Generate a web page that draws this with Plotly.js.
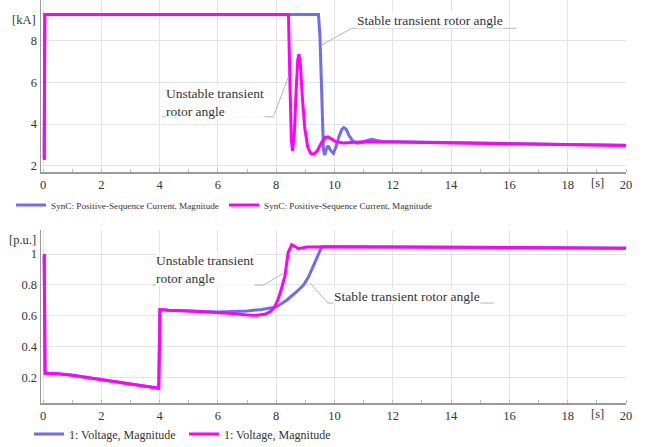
<!DOCTYPE html>
<html>
<head>
<meta charset="utf-8">
<script src="https://cdn.plot.ly/plotly-3.0.1.min.js"></script>
<style>
html,body{margin:0;padding:0;background:#fff}
#chart{width:656px;height:447px}
#chart text{font-family:'Liberation Serif','Times New Roman',serif !important}
</style>
</head>
<body>
<div id="chart"></div>
<script>
// ---- Top chart: positive-sequence current [kA] ----
const curStableT = [0, 0.04, 0.06, 9.45, 9.5, 9.56, 9.62, 9.66, 9.72, 9.78, 9.86, 9.96, 10.05, 10.15, 10.25, 10.32, 10.4, 10.5, 10.62, 10.77, 10.95, 11.1, 11.27, 11.45, 11.7, 12.2, 13, 14, 16, 18, 20];
const curStableV = [2.35, 2.35, 9.25, 9.25, 8.2, 5.0, 2.8, 2.51, 2.8, 2.96, 2.75, 2.6, 2.9, 3.4, 3.75, 3.83, 3.75, 3.45, 3.2, 3.08, 3.12, 3.2, 3.27, 3.22, 3.16, 3.15, 3.13, 3.1, 3.06, 3.02, 2.99];
const curUnstableT = [0, 0.04, 0.06, 8.42, 8.47, 8.52, 8.56, 8.62, 8.68, 8.74, 8.78, 8.83, 8.9, 8.98, 9.08, 9.18, 9.29, 9.4, 9.55, 9.68, 9.78, 9.9, 10.05, 10.3, 10.6, 11, 12, 14, 16, 18, 20];
const curUnstableV = [2.35, 2.35, 9.25, 9.25, 6.0, 3.2, 2.72, 3.5, 5.5, 7.1, 7.35, 6.8, 5.2, 3.8, 2.9, 2.6, 2.56, 2.7, 3.1, 3.35, 3.39, 3.3, 3.15, 3.1, 3.13, 3.15, 3.14, 3.1, 3.06, 3.02, 2.98];

// ---- Bottom chart: voltage magnitude [p.u.] ----
const voltStableT = [0, 0.04, 0.07, 0.5, 1, 1.5, 2, 2.5, 3, 3.5, 3.97, 4.01, 4.3, 5, 6, 7, 7.5, 8, 8.36, 8.7, 8.93, 9.1, 9.27, 9.42, 9.56, 9.7, 10, 12, 14, 16, 18, 20];
const voltStableV = [0.99, 0.99, 0.228, 0.225, 0.215, 0.201, 0.187, 0.173, 0.159, 0.145, 0.132, 0.641, 0.636, 0.631, 0.625, 0.632, 0.641, 0.658, 0.701, 0.756, 0.798, 0.85, 0.927, 0.99, 1.046, 1.047, 1.048, 1.046, 1.044, 1.042, 1.04, 1.038];
const voltUnstableT = [0, 0.04, 0.07, 0.5, 1, 1.5, 2, 2.5, 3, 3.5, 3.97, 4.01, 4.3, 5, 6, 6.5, 7, 7.33, 7.6, 7.79, 7.95, 8.07, 8.2, 8.3, 8.41, 8.53, 8.62, 8.76, 9.05, 9.5, 10, 12, 14, 16, 18, 20];
const voltUnstableV = [0.99, 0.99, 0.228, 0.225, 0.215, 0.201, 0.187, 0.173, 0.159, 0.145, 0.132, 0.641, 0.636, 0.631, 0.622, 0.615, 0.606, 0.604, 0.61, 0.626, 0.66, 0.71, 0.79, 0.86, 1.01, 1.06, 1.052, 1.035, 1.045, 1.047, 1.048, 1.046, 1.044, 1.042, 1.04, 1.038];

const curName = "SynC: Positive-Sequence Current, Magnitude";
const voltName = "1: Voltage, Magnitude";
const xTicks = [0, 2, 4, 6, 8, 10, 12, 14, 16, 18, 20];
const curTicks = [2, 4, 6, 8];
const voltTicks = [0.2, 0.4, 0.6, 0.8, 1];
const voltTickText = ["0.2", "0.4", "0.6", "0.8", "1"];

const BLUE = "#6f6cf2";
const MAG = "#ff00ff";
const FONT = "Liberation Serif";

const traces = [
  {x: curStableT, y: curStableV, name: curName, mode: "lines", line: {color: BLUE, width: 3}, xaxis: "x", yaxis: "y", legend: "legend"},
  {x: curUnstableT, y: curUnstableV, name: curName, mode: "lines", line: {color: MAG, width: 3}, xaxis: "x", yaxis: "y", legend: "legend"},
  {x: voltStableT, y: voltStableV, name: voltName, mode: "lines", line: {color: BLUE, width: 3}, xaxis: "x2", yaxis: "y2", legend: "legend2"},
  {x: voltUnstableT, y: voltUnstableV, name: voltName, mode: "lines", line: {color: MAG, width: 3}, xaxis: "x2", yaxis: "y2", legend: "legend2"}
];

const axX = (anchor) => ({
  anchor: anchor, range: [-0.07, 20], tickvals: xTicks, showgrid: true, gridcolor: "#e3e3e3", gridwidth: 1,
  zeroline: false, showline: true, linecolor: "#9a9a9a", linewidth: 1.5, ticks: "", ticklen: 0,
  tickfont: {family: FONT, size: 12.5, color: "#333"},
  minor: {dtick: 1, tick0: 0, ticks: "inside", ticklen: 3, tickcolor: "#bbb", showgrid: false}
});
const axY = (anchor, domain, range, tv, tt) => ({
  anchor: anchor, domain: domain, range: range, tickvals: tv, ticktext: tt, showgrid: true, gridcolor: "#e3e3e3",
  zeroline: false, showline: true, linecolor: "#9a9a9a", linewidth: 1.5, ticks: "", ticklen: 0,
  tickfont: {family: FONT, size: 12.5, color: "#333"}
});

const annFont = {family: FONT, size: 13.5, color: "#333"};
const ann = (xr, yr, x, y, text) => ({xref: xr, yref: yr, x: x, y: y, text: text, showarrow: false, xanchor: "left", yanchor: "middle", align: "left", font: annFont, bgcolor: "rgba(255,255,255,0.9)", borderpad: 0});
const lab = (yr, y, text) => ({xref: "paper", yref: yr, x: 0, y: y, text: text, showarrow: false, xanchor: "right", yanchor: "middle", xshift: -3, font: {family: FONT, size: 12.5, color: "#333"}});
const sLab = (yr, y) => ({xref: "x", yref: yr, x: 19.03, y: y, text: "[s]", showarrow: false, xanchor: "center", yanchor: "top", yshift: -2, font: {family: FONT, size: 12.5, color: "#333"}});

const annotations = [
  ann("x", "y", 10.73, 8.95, "Stable transient rotor angle"),
  ann("x", "y", 4.18, 5.06, "Unstable transient<br>rotor angle"),
  ann("x2", "y2", 3.84, 0.898, "Unstable transient<br>rotor angle"),
  ann("x2", "y2", 9.95, 0.728, "Stable transient rotor angle"),
  lab("y", 8.99, "[kA]"),
  lab("y2", 1.09, "[p.u.]"),
  sLab("y", 1.7),
  sLab("y2", 0.036)
];

const lc = {color: "#b5b5b5", width: 1};
const seg = (xr, yr, x0, y0, x1, y1) => ({type: "line", xref: xr, yref: yr, x0: x0, y0: y0, x1: x1, y1: y1, line: lc});
const shapes = [
  seg("x", "y", 10.59, 8.595, 16.25, 8.595), seg("x", "y", 10.59, 8.595, 9.56, 7.79),
  seg("x", "y", 4.07, 4.35, 7.90, 4.35), seg("x", "y", 7.90, 4.35, 8.42, 6.27),
  seg("x2", "y2", 3.77, 0.799, 7.56, 0.799), seg("x2", "y2", 7.56, 0.799, 8.24, 0.875),
  seg("x2", "y2", 9.78, 0.683, 15.47, 0.683), seg("x2", "y2", 9.78, 0.683, 9.16, 0.812)
];

const layout = {
  width: 656, height: 447,
  font: {family: FONT, size: 12, color: "#333"},
  margin: {l: 41, r: 30, t: 0, b: 44, autoexpand: false},
  paper_bgcolor: "#fff", plot_bgcolor: "#fff",
  xaxis: axX("y"), xaxis2: axX("y2"),
  yaxis: axY("x", [0.573, 1], [1.7, 9.95], curTicks, curTicks.map(String)),
  yaxis2: axY("x2", [0, 0.429], [0.036, 1.155], voltTicks, voltTickText),
  showlegend: true,
  legend: {orientation: "h", xref: "container", yref: "container", x: 0.0168, xanchor: "left", y: 0.5414, yanchor: "middle", font: {family: FONT, size: 9.2, color: "#333"}, entrywidth: 168, entrywidthmode: "pixels", bgcolor: "rgba(0,0,0,0)", traceorder: "normal"},
  legend2: {orientation: "h", xref: "container", yref: "container", x: 0.0442, xanchor: "left", y: 0.029, yanchor: "middle", font: {family: FONT, size: 12, color: "#333"}, entrywidth: 110, entrywidthmode: "pixels", bgcolor: "rgba(0,0,0,0)", traceorder: "normal"},
  annotations: annotations,
  shapes: shapes
};

Plotly.newPlot("chart", traces, layout, {displayModeBar: false, staticPlot: true});
</script>
</body>
</html>
